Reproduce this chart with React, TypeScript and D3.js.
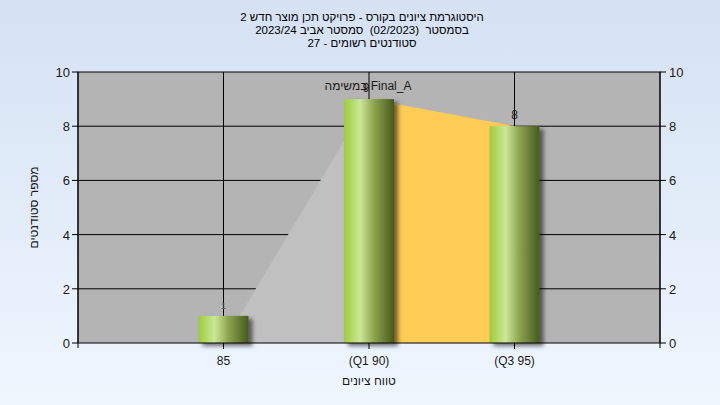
import React from "react";
import * as d3 from "d3";

const categories = ["85", "(Q1 90)", "(Q3 95)"];
const counts = [1, 9, 8];
const countLabels = ["1", "9", "8"];
const lowerArea = [0, 9]; // categories 0..1
const iqrArea = [9, 8]; // categories 1..2
const yTicks = [0, 2, 4, 6, 8, 10];
// tokens in visual left-to-right order ("" = extra gap)
const titleLines = [
  ["2", "חדש", "מוצר", "תכן", "פרויקט", "-", "בקורס", "ציונים", "היסטוגרמת"],
  ["2023/24", "אביב", "סמסטר", "", "(02/2023)", "", "בסמסטר"],
  ["27", "-", "רשומים", "סטודנטים"],
];
const extraLabel = ["במשימה", "Final_A"];
const xTitle = ["ציונים", "טווח"];
const yTitle = ["סטודנטים", "מספר"];

const W = 720;
const H = 405;
const L = 78;
const R = 660;
const T = 72;
const B = 343;
const FONT = "'Liberation Sans', Arial, sans-serif";

let ctx: CanvasRenderingContext2D | null = null;
function measure(t: string, size: number) {
  if (!ctx) ctx = document.createElement("canvas").getContext("2d");
  if (!ctx) return t.length * size * 0.55;
  ctx.font = `${size}px ${FONT}`;
  return ctx.measureText(t).width;
}

function layout(tokens: string[], size: number, cx: number) {
  const sp = measure(" ", size);
  const items: { t: string; w: number }[] = [];
  tokens.forEach((t) => items.push({ t, w: t === "" ? 0 : measure(t, size) }));
  const total = items.reduce((s, it) => s + it.w, 0) + sp * (items.length - 1);
  let xx = cx - total / 2;
  const out: { t: string; x: number }[] = [];
  items.forEach((it) => {
    if (it.t !== "") out.push({ t: it.t, x: xx });
    xx += it.w + sp;
  });
  return out;
}

function Tokens({ tokens, size, cx, y, fill }: { tokens: string[]; size: number; cx: number; y: number; fill: string }) {
  return (
    <g>
      {layout(tokens, size, cx).map((p, i) => (
        <text key={i} x={p.x} y={y} fontSize={size} fill={fill} textAnchor="start">
          {p.t}
        </text>
      ))}
    </g>
  );
}

export default function App() {
  const x = d3.scaleLinear().domain([0, 4]).range([L, R]);
  const y = d3.scaleLinear().domain([0, 10]).range([B, T]);
  const barW = 50;
  const area = d3
    .area<[number, number]>()
    .x((d) => x(d[0]))
    .y0(y(0))
    .y1((d) => y(d[1]));
  const greyPts: [number, number][] = lowerArea.map((v, i) => [i + 1, v]);
  const yellowPts: [number, number][] = iqrArea.map((v, i) => [i + 2, v]);

  return (
    <svg
      width={W}
      height={H}
      style={{ position: "absolute", left: 0, top: 0 }}
      fontFamily={FONT}
    >
      <defs>
        <linearGradient id="bg" x1="0" y1="0" x2="0" y2="1">
          <stop offset="0" stopColor="#d5e2f4" />
          <stop offset="1" stopColor="#eff6fe" />
        </linearGradient>
        <linearGradient id="bar" x1="0" y1="0" x2="1" y2="0">
          <stop offset="0" stopColor="#9dcc3c" />
          <stop offset="0.32" stopColor="#cbe797" />
          <stop offset="0.6" stopColor="#8ca44f" />
          <stop offset="1" stopColor="#465a1e" />
        </linearGradient>
        <filter id="shadow" x="-20%" y="-20%" width="150%" height="150%">
          <feDropShadow dx="4" dy="3" stdDeviation="2" floodColor="#000" floodOpacity="0.55" />
        </filter>
      </defs>
      <rect x={0} y={0} width={W} height={H} fill="url(#bg)" />

      {titleLines.map((t, i) => (
        <Tokens key={i} tokens={t} size={11.5} cx={362} y={21 + i * 13} fill="#000" />
      ))}

      <rect x={L} y={T} width={R - L} height={B - T} fill="#b4b4b4" />

      {/* gridlines */}
      {yTicks.slice(1, -1).map((t) => (
        <line key={t} x1={L} x2={R} y1={y(t)} y2={y(t)} stroke="#000" strokeWidth={1} />
      ))}
      {categories.map((c, i) => (
        <line key={c} x1={x(i + 1)} x2={x(i + 1)} y1={T} y2={B} stroke="#000" strokeWidth={1} />
      ))}

      {/* areas */}
      <path d={area(greyPts) || ""} fill="#c0c0c0" />
      <path d={area(yellowPts) || ""} fill="#ffcc55" />

      {/* bars */}
      {counts.map((v, i) => (
        <rect
          key={i}
          x={x(i + 1) - barW / 2}
          y={y(v)}
          width={barW}
          height={y(0) - y(v)}
          fill="url(#bar)"
          filter="url(#shadow)"
        />
      ))}

      {/* plot border & axes */}
      <rect x={L} y={T} width={R - L} height={B - T} fill="none" stroke="#000" strokeWidth={1} />
      <line x1={L} x2={L} y1={T} y2={B + 5} stroke="#000" />
      <line x1={R} x2={R} y1={T} y2={B + 5} stroke="#000" />
      {yTicks.map((t) => (
        <g key={t}>
          <line x1={L - 6} x2={L} y1={y(t)} y2={y(t)} stroke="#000" />
          <line x1={R} x2={R + 6} y1={y(t)} y2={y(t)} stroke="#000" />
          <text x={L - 8} y={y(t) + 5} textAnchor="end" fontSize={13} fill="#1a1a1a">
            {t}
          </text>
          <text x={R + 9} y={y(t) + 5} textAnchor="start" fontSize={13} fill="#1a1a1a">
            {t}
          </text>
        </g>
      ))}
      {categories.map((c, i) => (
        <g key={c}>
          <line x1={x(i + 1)} x2={x(i + 1)} y1={B} y2={B + 6} stroke="#000" />
          <text x={x(i + 1)} y={365} textAnchor="middle" fontSize={12} fill="#1a1a1a">
            {c}
          </text>
        </g>
      ))}

      {/* data labels */}
      {counts.map((v, i) => (
        <text
          key={i}
          x={x(i + 1) - (i === 1 ? 3 : 0)}
          y={y(v) - 7}
          textAnchor="middle"
          fontSize={i === 0 ? 9 : 12}
          fill={i === 0 ? "#555" : "#1a1a1a"}
        >
          {countLabels[i]}
        </text>
      ))}
      <Tokens tokens={extraLabel} size={12} cx={x(2) - 1} y={y(counts[1]) - 9} fill="#1a1a1a" />

      <Tokens tokens={xTitle} size={12} cx={x(2)} y={385} fill="#1a1a1a" />
      <g transform={`translate(38, ${(T + B) / 2}) rotate(-90)`}>
        <Tokens tokens={yTitle} size={12} cx={0} y={0} fill="#1a1a1a" />
      </g>
    </svg>
  );
}
